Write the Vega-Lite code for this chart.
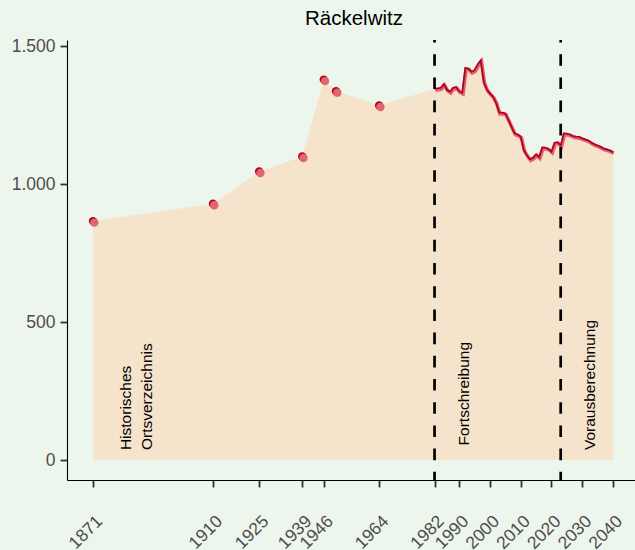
{
  "$schema": "https://vega.github.io/schema/vega-lite/v6.json",
  "width": 568,
  "height": 440,
  "autosize": {"type": "none"},
  "padding": {"left": 67, "top": 40, "right": 0, "bottom": 70},
  "background": "#EDF6EC",
  "title": {"text": "Räckelwitz", "fontSize": 20.5, "fontWeight": "normal", "font": "Liberation Sans", "color": "#000000", "anchor": "middle", "offset": 8, "dx": 3},
  "config": {
    "view": {"stroke": null},
    "axis": {"grid": false, "labelFont": "Liberation Sans", "labelFontSize": 17.5, "labelColor": "#4D4D4D", "domainColor": "#000000", "domainWidth": 1.1, "tickColor": "#333333", "tickWidth": 1.8, "tickSize": 7, "title": null}
  },
  "datasets": {
    "pop": [
      {"year": 1871, "value": 866, "kind": "hist"},
      {"year": 1910, "value": 929, "kind": "hist"},
      {"year": 1925, "value": 1046, "kind": "hist"},
      {"year": 1939, "value": 1100, "kind": "hist"},
      {"year": 1946, "value": 1379, "kind": "hist"},
      {"year": 1950, "value": 1337, "kind": "hist"},
      {"year": 1964, "value": 1285, "kind": "hist"},
      {"year": 1982, "value": 1345, "kind": "line"},
      {"year": 1983, "value": 1347, "kind": "line"},
      {"year": 1984, "value": 1349, "kind": "line"},
      {"year": 1985, "value": 1363, "kind": "line"},
      {"year": 1986, "value": 1343, "kind": "line"},
      {"year": 1987, "value": 1335, "kind": "line"},
      {"year": 1988, "value": 1349, "kind": "line"},
      {"year": 1989, "value": 1352, "kind": "line"},
      {"year": 1990, "value": 1337, "kind": "line"},
      {"year": 1991, "value": 1331, "kind": "line"},
      {"year": 1992, "value": 1421, "kind": "line"},
      {"year": 1993, "value": 1419, "kind": "line"},
      {"year": 1994, "value": 1407, "kind": "line"},
      {"year": 1995, "value": 1413, "kind": "line"},
      {"year": 1996, "value": 1434, "kind": "line"},
      {"year": 1997, "value": 1449, "kind": "line"},
      {"year": 1998, "value": 1370, "kind": "line"},
      {"year": 1999, "value": 1343, "kind": "line"},
      {"year": 2000, "value": 1329, "kind": "line"},
      {"year": 2001, "value": 1317, "kind": "line"},
      {"year": 2002, "value": 1295, "kind": "line"},
      {"year": 2003, "value": 1259, "kind": "line"},
      {"year": 2004, "value": 1259, "kind": "line"},
      {"year": 2005, "value": 1256, "kind": "line"},
      {"year": 2006, "value": 1232, "kind": "line"},
      {"year": 2007, "value": 1208, "kind": "line"},
      {"year": 2008, "value": 1184, "kind": "line"},
      {"year": 2009, "value": 1180, "kind": "line"},
      {"year": 2010, "value": 1172, "kind": "line"},
      {"year": 2011, "value": 1124, "kind": "line"},
      {"year": 2012, "value": 1105, "kind": "line"},
      {"year": 2013, "value": 1090, "kind": "line"},
      {"year": 2014, "value": 1096, "kind": "line"},
      {"year": 2015, "value": 1108, "kind": "line"},
      {"year": 2016, "value": 1098, "kind": "line"},
      {"year": 2017, "value": 1133, "kind": "line"},
      {"year": 2018, "value": 1132, "kind": "line"},
      {"year": 2019, "value": 1128, "kind": "line"},
      {"year": 2020, "value": 1118, "kind": "line"},
      {"year": 2021, "value": 1150, "kind": "line"},
      {"year": 2022, "value": 1152, "kind": "line"},
      {"year": 2023, "value": 1140, "kind": "line"},
      {"year": 2024, "value": 1184, "kind": "line"},
      {"year": 2025, "value": 1183, "kind": "line"},
      {"year": 2026, "value": 1180, "kind": "line"},
      {"year": 2027, "value": 1174, "kind": "line"},
      {"year": 2028, "value": 1172, "kind": "line"},
      {"year": 2029, "value": 1171, "kind": "line"},
      {"year": 2030, "value": 1166, "kind": "line"},
      {"year": 2031, "value": 1162, "kind": "line"},
      {"year": 2032, "value": 1158, "kind": "line"},
      {"year": 2033, "value": 1150, "kind": "line"},
      {"year": 2034, "value": 1144, "kind": "line"},
      {"year": 2035, "value": 1140, "kind": "line"},
      {"year": 2036, "value": 1135, "kind": "line"},
      {"year": 2037, "value": 1129, "kind": "line"},
      {"year": 2038, "value": 1126, "kind": "line"},
      {"year": 2039, "value": 1122, "kind": "line"},
      {"year": 2040, "value": 1116, "kind": "line"}
    ],
    "breaks": [{"year": 1982}, {"year": 2023}],
    "notes": [
      {"year": 1883.25, "value": 36, "label": "Historisches\nOrtsverzeichnis"},
      {"year": 1993.2, "value": 53, "label": "Fortschreibung"},
      {"year": 2034.3, "value": 36, "label": "Vorausberechnung"}
    ]
  },
  "layer": [
    {
      "data": {"name": "pop"},
      "mark": {"type": "area", "color": "#F5E3CC"},
      "encoding": {
        "x": {"field": "year", "type": "quantitative", "scale": {"domain": [1862.55, 2047.15], "nice": false, "zero": false},
              "axis": {"values": [1871, 1910, 1925, 1939, 1946, 1964, 1982, 1990, 2000, 2010, 2020, 2030, 2040], "format": "d", "labelAngle": -45, "labelAlign": "right", "labelBaseline": "top", "labelPadding": 25, "labelOffset": 0, "labelOverlap": false, "labelBound": false, "labelFlush": false}},
        "y": {"field": "value", "type": "quantitative", "scale": {"domain": [-72.5, 1522.5], "nice": false, "zero": false},
              "axis": {"values": [0, 500, 1000, 1500], "labelExpr": "replace(format(datum.value, ','), ',', '.')", "labelPadding": 5}}
      }
    },
    {
      "data": {"name": "pop"},
      "transform": [{"filter": "datum.kind == 'line'"}],
      "mark": {"type": "line", "color": "#E0666C", "strokeWidth": 3.6, "xOffset": 0.8, "yOffset": 1.2},
      "encoding": {
        "x": {"field": "year", "type": "quantitative"},
        "y": {"field": "value", "type": "quantitative"}
      }
    },
    {
      "data": {"name": "pop"},
      "transform": [{"filter": "datum.kind == 'line'"}],
      "mark": {"type": "line", "color": "#B40024", "strokeWidth": 1.8},
      "encoding": {
        "x": {"field": "year", "type": "quantitative"},
        "y": {"field": "value", "type": "quantitative"}
      }
    },
    {
      "data": {"name": "pop"},
      "transform": [{"filter": "datum.kind == 'hist'"}],
      "mark": {"type": "circle", "color": "#B40024", "size": 70, "opacity": 1},
      "encoding": {
        "x": {"field": "year", "type": "quantitative"},
        "y": {"field": "value", "type": "quantitative"}
      }
    },
    {
      "data": {"name": "pop"},
      "transform": [{"filter": "datum.kind == 'hist'"}],
      "mark": {"type": "circle", "color": "#E0666C", "size": 70, "opacity": 1, "xOffset": 1.3, "yOffset": 1.5},
      "encoding": {
        "x": {"field": "year", "type": "quantitative"},
        "y": {"field": "value", "type": "quantitative"}
      }
    },
    {
      "data": {"name": "breaks"},
      "mark": {"type": "rule", "color": "#000000", "strokeWidth": 2.7, "strokeDash": [11.6, 11.6], "strokeDashOffset": 9},
      "encoding": {
        "x": {"field": "year", "type": "quantitative"}
      }
    },
    {
      "data": {"name": "notes"},
      "mark": {"type": "text", "angle": 270, "align": "left", "baseline": "alphabetic", "font": "Liberation Sans", "fontSize": 15.5, "lineHeight": 21.3, "lineBreak": "\n", "color": "#000000"},
      "encoding": {
        "x": {"field": "year", "type": "quantitative"},
        "y": {"field": "value", "type": "quantitative"},
        "text": {"field": "label", "type": "nominal"}
      }
    }
  ]
}
